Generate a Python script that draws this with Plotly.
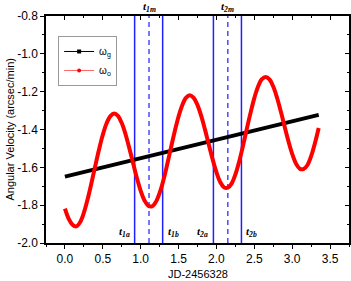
import plotly.graph_objects as go

# ---- data ----
jd_o = [0.00, 0.05, 0.10, 0.15, 0.20, 0.25, 0.30, 0.35, 0.40, 0.45, 0.50, 0.55, 0.60, 0.65,
        0.70, 0.75, 0.80, 0.85, 0.90, 0.95, 1.00, 1.05, 1.10, 1.15, 1.20, 1.25, 1.30, 1.35,
        1.40, 1.45, 1.50, 1.55, 1.60, 1.65, 1.70, 1.75, 1.80, 1.85, 1.90, 1.95, 2.00, 2.05,
        2.10, 2.15, 2.20, 2.25, 2.30, 2.35, 2.40, 2.45, 2.50, 2.55, 2.60, 2.65, 2.70, 2.75,
        2.80, 2.85, 2.90, 2.95, 3.00, 3.05, 3.10, 3.15, 3.20, 3.25, 3.30, 3.35]
omega_o = [-1.818, -1.872, -1.903, -1.912, -1.890, -1.840, -1.768, -1.683, -1.593, -1.506,
           -1.428, -1.367, -1.329, -1.315, -1.328, -1.366, -1.425, -1.499, -1.578, -1.656,
           -1.724, -1.775, -1.803, -1.806, -1.783, -1.735, -1.668, -1.585, -1.496, -1.409,
           -1.331, -1.270, -1.231, -1.219, -1.233, -1.271, -1.329, -1.402, -1.481, -1.558,
           -1.626, -1.678, -1.706, -1.708, -1.686, -1.638, -1.570, -1.487, -1.398, -1.312,
           -1.234, -1.173, -1.134, -1.122, -1.135, -1.173, -1.232, -1.305, -1.384, -1.461,
           -1.529, -1.580, -1.607, -1.609, -1.589, -1.541, -1.473, -1.392]
jd_g = [0.0, 3.35]
omega_g = [-1.649, -1.323]

t_solid = [0.92, 1.29, 1.96, 2.33]
t_dashed = [1.11, 2.15]
top_labels = ["1m", "2m"]
bottom_labels = ["1a", "1b", "2a", "2b"]

x_ticks = [0.0, 0.5, 1.0, 1.5, 2.0, 2.5, 3.0, 3.5]
x_ticktext = ["0.0", "0.5", "1.0", "1.5", "2.0", "2.5", "3.0", "3.5"]
y_ticks = [-2.0, -1.8, -1.6, -1.4, -1.2, -1.0, -0.8]
y_ticktext = ["-2.0", "-1.8", "-1.6", "-1.4", "-1.2", "-1.0", "-0.8"]
x_range = [-0.25, 3.75]
y_range = [-2.0, -0.8]

fig = go.Figure()

# vertical marker lines
for v in t_solid:
    fig.add_trace(go.Scatter(x=[v, v], y=y_range, mode="lines",
                             line=dict(color="#1f1fff", width=1.5),
                             showlegend=False, hoverinfo="skip"))
for v in t_dashed:
    fig.add_trace(go.Scatter(x=[v, v], y=y_range, mode="lines",
                             line=dict(color="#4a4aff", width=1.5, dash="5px,4px"),
                             showlegend=False, hoverinfo="skip"))

fig.add_trace(go.Scatter(x=jd_g, y=omega_g, mode="lines",
                         line=dict(color="black", width=4), showlegend=False))
fig.add_trace(go.Scatter(x=jd_o, y=omega_o, mode="lines", line_shape="spline",
                         line=dict(color="#ff0000", width=4), showlegend=False))

# legend-only entries
fig.add_trace(go.Scatter(x=[None], y=[None], mode="lines+markers", name="ω<sub>g</sub>",
                         line=dict(color="black", width=1),
                         marker=dict(symbol="square", size=4, color="black")))
fig.add_trace(go.Scatter(x=[None], y=[None], mode="lines+markers", name="ω<sub>o</sub>",
                         line=dict(color="#ff6666", width=1),
                         marker=dict(symbol="circle", size=4, color="#ff0000")))

# mirrored axes with inside ticks
fig.add_trace(go.Scatter(x=[None], y=[None], xaxis="x2", yaxis="y2", showlegend=False))

tfont = dict(family="Liberation Serif", size=11, color="black")
for v, lab in zip(t_dashed, top_labels):
    fig.add_annotation(x=v, y=1.0, xref="x", yref="paper", yanchor="bottom", yshift=0,
                       text="<b><i>t</i></b><sub><b><i>" + lab + "</i></b></sub>",
                       showarrow=False, font=tfont)
for i, (v, lab) in enumerate(zip(t_solid, bottom_labels)):
    left = (i % 2 == 0)
    fig.add_annotation(x=v, y=-1.94, xref="x", yref="y",
                       xanchor="right" if left else "left", xshift=-3 if left else 3,
                       text="<b><i>t</i></b><sub><b><i>" + lab + "</i></b></sub>",
                       showarrow=False, font=tfont)

# axis titles as annotations
fig.add_annotation(x=0.5, y=-0.135, xref="paper", yref="paper", yanchor="middle",
                   text="JD-2456328", showarrow=False,
                   font=dict(family="Liberation Sans", size=11, color="black"))
fig.add_annotation(x=-0.122, y=0.5, xref="paper", yref="paper", xanchor="center",
                   text="Angular Velocity (arcsec/min)", textangle=-90, showarrow=False,
                   font=dict(family="Liberation Sans", size=11, color="black"))

axis_common = dict(showline=True, linecolor="black", linewidth=1.5, showgrid=False,
                   zeroline=False, ticks="outside", tickcolor="black", tickwidth=1,
                   ticklen=4, automargin=False,
                   tickfont=dict(family="Liberation Sans", size=12, color="black"))

fig.update_layout(
    width=351, height=281,
    margin=dict(l=46, r=2, t=16, b=38, autoexpand=False),
    plot_bgcolor="white", paper_bgcolor="white",
    font=dict(family="Liberation Sans", size=11, color="black"),
    xaxis=dict(range=x_range, tickvals=x_ticks, ticktext=x_ticktext,
               minor=dict(dtick=0.25, tick0=0, ticks="outside", ticklen=2, tickcolor="black"),
               **axis_common),
    yaxis=dict(range=y_range, tickvals=y_ticks, ticktext=y_ticktext,
               minor=dict(dtick=0.1, tick0=0, ticks="outside", ticklen=2, tickcolor="black"),
               **axis_common),
    xaxis2=dict(range=x_range, overlaying="x", side="top", showline=True, linecolor="black",
                linewidth=1.5, showgrid=False, zeroline=False, showticklabels=False,
                automargin=False,
                tickvals=x_ticks, ticks="inside", ticklen=4, tickcolor="black",
                minor=dict(dtick=0.25, tick0=0, ticks="inside", ticklen=2, tickcolor="black")),
    yaxis2=dict(range=y_range, overlaying="y", side="right", showline=True, linecolor="black",
                linewidth=1.5, showgrid=False, zeroline=False, showticklabels=False,
                automargin=False,
                tickvals=y_ticks, ticks="inside", ticklen=4, tickcolor="black",
                minor=dict(dtick=0.1, tick0=0, ticks="inside", ticklen=2, tickcolor="black")),
    legend=dict(x=0.04, y=0.912, xanchor="left", yanchor="top", bgcolor="white",
                bordercolor="#999999", borderwidth=1, font=dict(size=10),
                itemwidth=30, tracegroupgap=0),
)

fig.write_html("out.html", config={"displayModeBar": False},
               post_script="document.body.style.margin='0px';document.body.style.overflow='hidden';")
